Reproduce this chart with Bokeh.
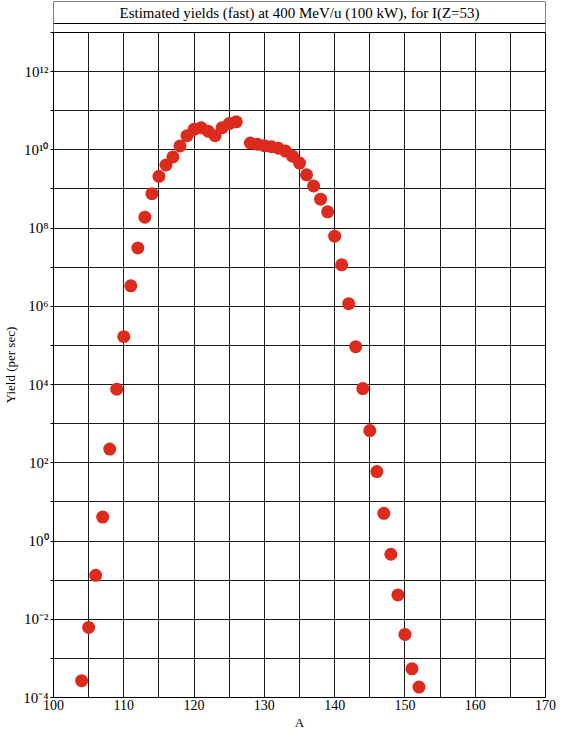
from bokeh.plotting import figure
from bokeh.layouts import column
from bokeh.models import (Range1d, FixedTicker, CustomJSTickFormatter, Label,
                          Span, ColumnDataSource)
from bokeh.embed import file_html
from bokeh.resources import INLINE

# ---- data ----
mass_number = [104, 105, 106, 107, 108, 109, 110, 111, 112, 113, 114, 115,
               116, 117, 118, 119, 120, 121, 122, 123, 124, 125, 126,
               128, 129, 130, 131, 132, 133, 134, 135, 136, 137, 138, 139,
               140, 141, 142, 143, 144, 145, 146, 147, 148, 149, 150, 151, 152]
yield_per_sec = [2.7e-4, 6.2e-3, 0.133, 4.1, 224, 7.6e3, 1.68e5, 3.35e6,
                 3.1e7, 1.9e8, 7.6e8, 2.1e9, 4.1e9, 6.6e9, 1.26e10, 2.3e10,
                 3.35e10, 3.7e10, 3.0e10, 2.3e10, 3.7e10, 4.7e10, 5.2e10,
                 1.5e10, 1.39e10, 1.28e10, 1.2e10, 1.1e10, 9.3e9, 6.9e9,
                 4.6e9, 2.3e9, 1.19e9, 5.5e8, 2.6e8, 6.2e7, 1.15e7, 1.17e6,
                 9.3e4, 7.9e3, 668, 59.6, 5.1, 0.46, 0.042, 4.1e-3, 5.4e-4,
                 1.85e-4]
x_ticks = list(range(100, 171, 5))
y_ticks = [10.0 ** k for k in range(-4, 14)]
title_text = "Estimated yields (fast) at 400 MeV/u (100 kW), for I(Z=53)"

FONT = "Liberation Serif"
W = 556
LB, RB = 48, 11
TOP_H = 32

# ---- title box (left/right/top edges + separator; bottom = plot frame) ----
t = figure(width=W, height=TOP_H, x_range=Range1d(0, 1), y_range=Range1d(0, TOP_H - 1),
           x_axis_location=None, y_axis_location=None, toolbar_location=None,
           output_backend="svg", min_border_left=LB, min_border_right=RB,
           min_border_top=1, min_border_bottom=0, outline_line_color=None)
t.xgrid.visible = False
t.ygrid.visible = False
for loc, dim in ((9, "width"), (TOP_H - 1, "width"), (0, "height"), (1, "height")):
    t.add_layout(Span(location=loc, dimension=dim, line_color="black", line_width=1))
t.add_layout(Label(x=0.5, y=(9 + TOP_H - 1) / 2, text=title_text, text_align="center",
                   text_baseline="middle", text_font=FONT,
                   text_font_size="15px", text_color="black"))

# ---- main plot ----
p = figure(width=W, height=732 - TOP_H, y_axis_type="log",
           x_range=Range1d(100, 170), y_range=Range1d(1e-4, 1e13),
           toolbar_location=None, output_backend="svg",
           min_border_left=LB, min_border_right=RB, min_border_top=0,
           min_border_bottom=0,
           outline_line_color="black", outline_line_width=1)

src = ColumnDataSource(dict(A=mass_number, Y=yield_per_sec))
p.scatter("A", "Y", source=src, size=13, fill_color="#dc2a1c",
          line_color="#dc2a1c", line_width=0)

p.xaxis.ticker = FixedTicker(ticks=x_ticks)
p.yaxis.ticker = FixedTicker(ticks=y_ticks)
p.xaxis.formatter = CustomJSTickFormatter(
    code="return (Math.round(tick) % 10 == 0) ? Math.round(tick).toString() : '';")
p.yaxis.formatter = CustomJSTickFormatter(code="""
const e = Math.round(Math.log10(tick));
if (e % 2 != 0) { return ''; }
const sup = {'-':'\u207b','0':'\u2070','1':'\u00b9','2':'\u00b2','3':'\u00b3',
             '4':'\u2074','5':'\u2075','6':'\u2076','7':'\u2077','8':'\u2078','9':'\u2079'};
return '10' + String(e).split('').map(c => sup[c]).join('');
""")

for ax in (p.xaxis, p.yaxis):
    ax.major_label_text_font = FONT
    ax.major_label_text_font_size = "14px"
    ax.major_label_text_color = "black"
    ax.axis_label_text_font = FONT
    ax.axis_label_text_font_size = "13px"
    ax.axis_label_text_font_style = "normal"
    ax.axis_label_text_color = "black"
    ax.minor_tick_line_color = None
    ax.major_tick_in = 0
    ax.axis_line_color = "black"
    ax.major_tick_line_color = "black"
    ax.major_label_standoff = 2
    ax.axis_label_standoff = 2

p.xaxis.major_tick_out = 0
p.yaxis.major_tick_out = 3
p.yaxis.major_label_text_font_size = "15px"
p.xaxis.axis_label = "A"
p.yaxis.axis_label = "Yield (per sec)"

p.xgrid.grid_line_color = "#1a1a1a"
p.ygrid.grid_line_color = "#1a1a1a"
p.xgrid.grid_line_alpha = 1.0
p.ygrid.grid_line_alpha = 1.0
p.xgrid.grid_line_width = 1
p.ygrid.grid_line_width = 1

layout = column(t, p, spacing=0)
open("out.html", "w").write(file_html(layout, INLINE))
